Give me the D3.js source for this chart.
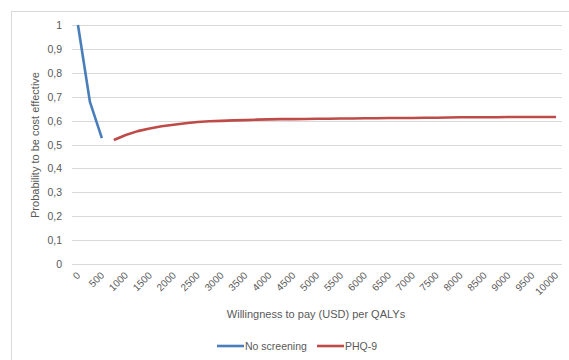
<!DOCTYPE html>
<html>
<head>
<meta charset="utf-8">
<script src="https://cdn.jsdelivr.net/npm/d3@7"></script>
<style>
  body { margin: 0; background: #fff; }
  svg { display: block; font-family: "Liberation Sans", Arial, sans-serif; }
</style>
</head>
<body>
<svg width="569" height="360"></svg>
<script>
// willingness to pay categories (USD), one every 250
var wtp = [0, 250, 500, 750, 1000, 1250, 1500, 1750, 2000, 2250, 2500, 2750, 3000, 3250, 3500, 3750,
  4000, 4250, 4500, 4750, 5000, 5250, 5500, 5750, 6000, 6250, 6500, 6750, 7000, 7250, 7500, 7750,
  8000, 8250, 8500, 8750, 9000, 9250, 9500, 9750, 10000];

var noScreening = [1, 0.678, 0.527];

var phq9 = [null, null, null,
  0.519, 0.540, 0.556, 0.567, 0.576, 0.583, 0.589, 0.594, 0.597, 0.599,
  0.601, 0.602, 0.604, 0.605, 0.606, 0.606, 0.607, 0.608, 0.608, 0.609,
  0.609, 0.610, 0.610, 0.611, 0.611, 0.611, 0.612, 0.612, 0.613, 0.614,
  0.614, 0.614, 0.614, 0.615, 0.615, 0.615, 0.615, 0.615];

var yTicks = [0, 0.1, 0.2, 0.3, 0.4, 0.5, 0.6, 0.7, 0.8, 0.9, 1];

var series = [
  { name: "No screening", values: noScreening, color: "#4A7EBB" },
  { name: "PHQ-9", values: phq9, color: "#BE4B48" }
];

var svg = d3.select("svg"),
    plotLeft = 72, plotRight = 562, plotTop = 25, plotBottom = 264;

// chart area border
svg.append("rect")
  .attr("x", 11.5).attr("y", 11.5)
  .attr("width", 600).attr("height", 400)
  .attr("fill", "none").attr("stroke", "#D9D9D9");

var x = d3.scaleBand()
  .domain(wtp)
  .range([plotLeft, plotRight]);

var y = d3.scaleLinear()
  .domain([0, 1])
  .range([plotBottom, plotTop]);

// gridlines
svg.append("g")
  .selectAll("line")
  .data(yTicks)
  .enter()
  .append("line")
  .attr("x1", plotLeft).attr("x2", plotRight)
  .attr("y1", d => Math.round(y(d)) + 0.5)
  .attr("y2", d => Math.round(y(d)) + 0.5)
  .attr("stroke", "#D9D9D9")
  .attr("stroke-width", 1);

// y labels
svg.append("g")
  .selectAll("text")
  .data(yTicks)
  .enter()
  .append("text")
  .attr("x", 62)
  .attr("y", d => y(d) + 4)
  .attr("text-anchor", "end")
  .attr("font-size", 10.5)
  .attr("fill", "#595959")
  .text(d => String(d).replace(".", ","));

// x labels, every second category
svg.append("g")
  .selectAll("text")
  .data(wtp.filter((d, i) => i % 2 == 0))
  .enter()
  .append("text")
  .attr("transform", d => "translate(" + (x(d) + x.bandwidth() / 2 + 3) + "," + 276 + ") rotate(-45)")
  .attr("text-anchor", "end")
  .attr("font-size", 10)
  .attr("fill", "#595959")
  .text(d => d);

var line = d3.line()
  .defined(d => d.v != null)
  .x(d => x(d.k) + x.bandwidth() / 2)
  .y(d => y(d.v));

svg.append("g")
  .selectAll("path")
  .data(series)
  .enter()
  .append("path")
  .attr("fill", "none")
  .attr("stroke", d => d.color)
  .attr("stroke-width", 2.6)
  .attr("stroke-linejoin", "round")
  .attr("d", d => line(wtp.map((k, i) => ({ k: k, v: d.values[i] == undefined ? null : d.values[i] }))));

// axis titles
svg.append("text")
  .attr("x", 316).attr("y", 318)
  .attr("text-anchor", "middle")
  .attr("font-size", 11)
  .attr("fill", "#595959")
  .text("Willingness to pay (USD) per QALYs");

svg.append("text")
  .attr("transform", "translate(39,145) rotate(-90)")
  .attr("text-anchor", "middle")
  .attr("font-size", 11)
  .attr("fill", "#595959")
  .text("Probability to be cost effective");

// legend
var legendX = [217, 317];
var lg = svg.append("g")
  .selectAll("g")
  .data(series)
  .enter()
  .append("g")
  .attr("transform", (d, i) => "translate(" + legendX[i] + ",346)");

lg.append("line")
  .attr("x1", 0).attr("x2", 27)
  .attr("stroke", d => d.color)
  .attr("stroke-width", 2.6);

lg.append("text")
  .attr("x", 28).attr("y", 4)
  .attr("font-size", 10.5)
  .attr("fill", "#595959")
  .text(d => d.name);
</script>
</body>
</html>
